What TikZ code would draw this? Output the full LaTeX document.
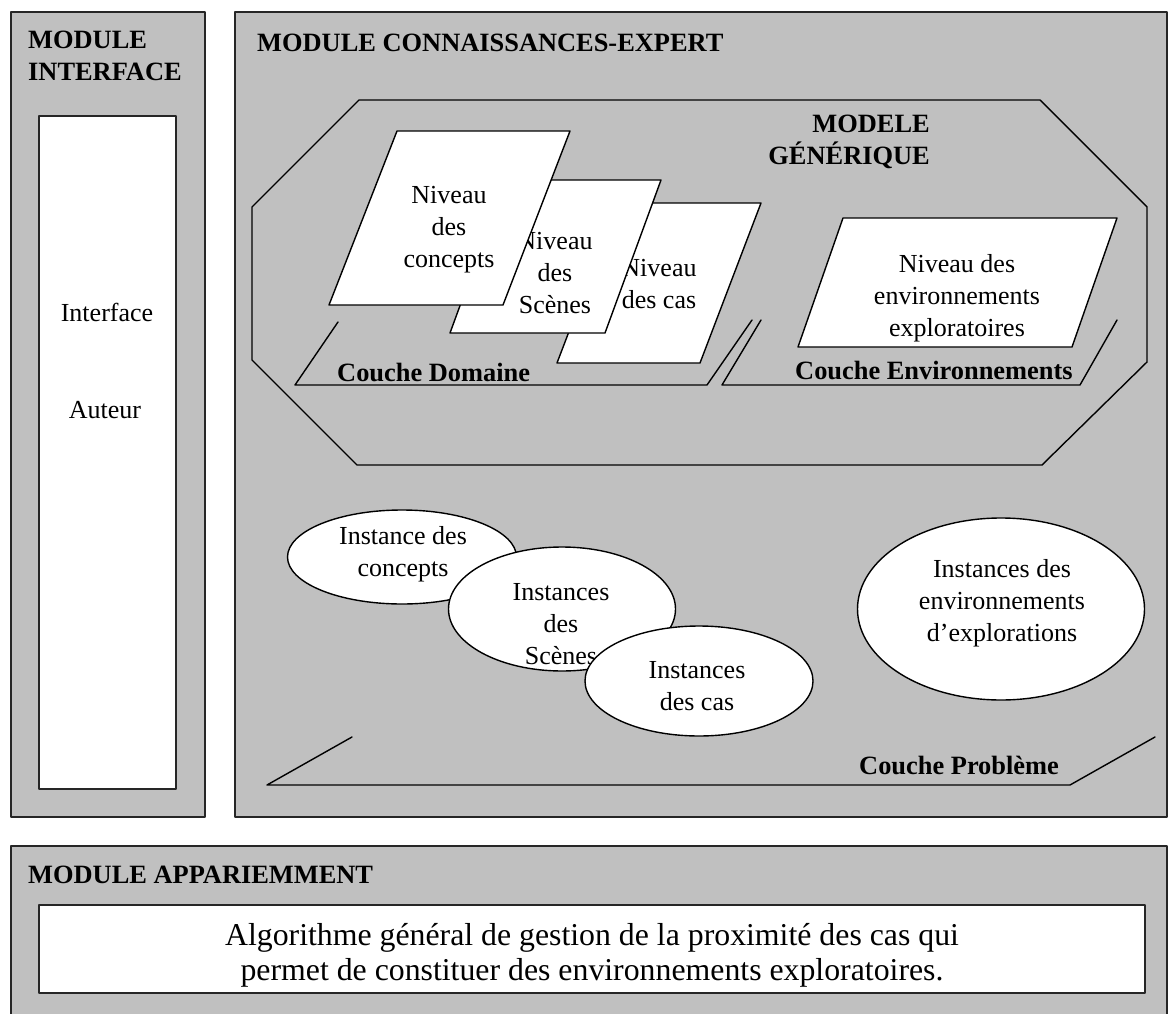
\documentclass[tikz,border=0pt]{standalone}
\usepackage{fontspec}
\setmainfont{Liberation Serif}
\usetikzlibrary{shapes.geometric, positioning}
\definecolor{panelgray}{RGB}{192,192,192}

\tikzset{
	module/.style={draw=black!85, line width=1.8pt, fill=panelgray},
	whitebox/.style={draw=black!85, line width=1.8pt, fill=white},
	plane/.style={draw=black, line width=1.4pt, fill=white},
	layer/.style={draw=black, line width=1.4pt},
	heading/.style={font=\fontsize{26.4}{32}\selectfont\bfseries, inner sep=0pt},
	txt/.style={font=\fontsize{26}{32}\selectfont, align=center, inner sep=0pt},
	inst/.style={ellipse, draw=black, line width=1.4pt, fill=white, inner sep=0pt}
}

\begin{document}
\begin{tikzpicture}[x=1pt, y=-1pt, line cap=round, line join=round]
	\useasboundingbox (0,0) rectangle (1170,1014);
	\clip (0,0) rectangle (1170,1014);

	% module boxes
	\draw[module] (11,12) rectangle (205,817);
	\draw[whitebox] (39,116) rectangle (176,789);
	\draw[module] (235,12) rectangle (1167,817);
	\draw[module] (11,846) rectangle (1167,1040);
	\draw[whitebox] (39,905) rectangle (1145,993);

	\node[heading, align=left, anchor=west] (tinterface) at (28,56) {MODULE\\INTERFACE};
	\node[txt] (interface) at (107,312) {Interface};
	\node[txt] (auteur) at (105,410) {Auteur};
	\node[heading, anchor=west] (texpert) at (257,43) {MODULE CONNAISSANCES-EXPERT};
	\node[heading, anchor=west] (tappar) at (28,875) {MODULE APPARIEMMENT};
	\node[txt, font=\fontsize{31.8}{35}\selectfont] (algo) at (592,955)
		{Algorithme général de gestion de la proximité des cas qui\\permet de constituer des environnements exploratoires.};

	% generic model
	\draw[layer] (359,100) -- (1040,100) -- (1147,207) -- (1147,362) -- (1042,465)
		-- (357,465) -- (252,360) -- (252,207) -- cycle;
	\node[heading, align=right, anchor=east] (tmodele) at (930,142) {MODELE\\GÉNÉRIQUE};

	% layers
	\draw[layer] (338,322) -- (295,385) -- (707,385) -- (752,320);
	\draw[layer] (761,320) -- (722,385) -- (1080,385) -- (1117,320);
	\draw[layer] (352,737) -- (267,785) -- (1070,785) -- (1155,737);
	\node[heading, anchor=west] (cdomaine) at (337,372) {Couche Domaine};
	\node[heading, anchor=west] (cenv) at (795,370) {Couche Environnements};
	\node[heading, anchor=west] (cprob) at (859,765) {Couche Problème};

	% levels
	\filldraw[plane] (618,203) -- (761,203) -- (700,363) -- (557,363) -- cycle;
	\node[txt] (ncas) at (659,284) {Niveau\\des cas};
	\filldraw[plane] (506,180) -- (661,180) -- (605,333) -- (450,333) -- cycle;
	\node[txt] (nscenes) at (555,273) {Niveau\\des\\Scènes};
	\filldraw[plane] (397,131) -- (570,131) -- (503,305) -- (329,305) -- cycle;
	\node[txt] (nconcepts) at (449,230) {Niveau\\des\\concepts};
	\filldraw[plane] (843,218) -- (1117,218) -- (1072,347) -- (798,347) -- cycle;
	\node[txt] (nenv) at (957,298) {Niveau des\\environnements\\exploratoires};

	% instances
	\node[inst, minimum width=229pt, minimum height=94pt] (iconcepts) at (402,557) {};
	\node[txt] at (403,554) {Instance des\\concepts};
	\node[inst, minimum width=227pt, minimum height=124pt] (iscenes) at (562,609) {};
	\node[txt] at (561,624) {Instances\\des\\Scènes};
	\node[inst, minimum width=228pt, minimum height=110pt] (icas) at (699,681) {};
	\node[txt] at (697,686) {Instances\\des cas};
	\node[inst, minimum width=287pt, minimum height=182pt] (ienv) at (1001,609) {};
	\node[txt] at (1002,603) {Instances des\\environnements\\d’explorations};

\end{tikzpicture}
\end{document}
